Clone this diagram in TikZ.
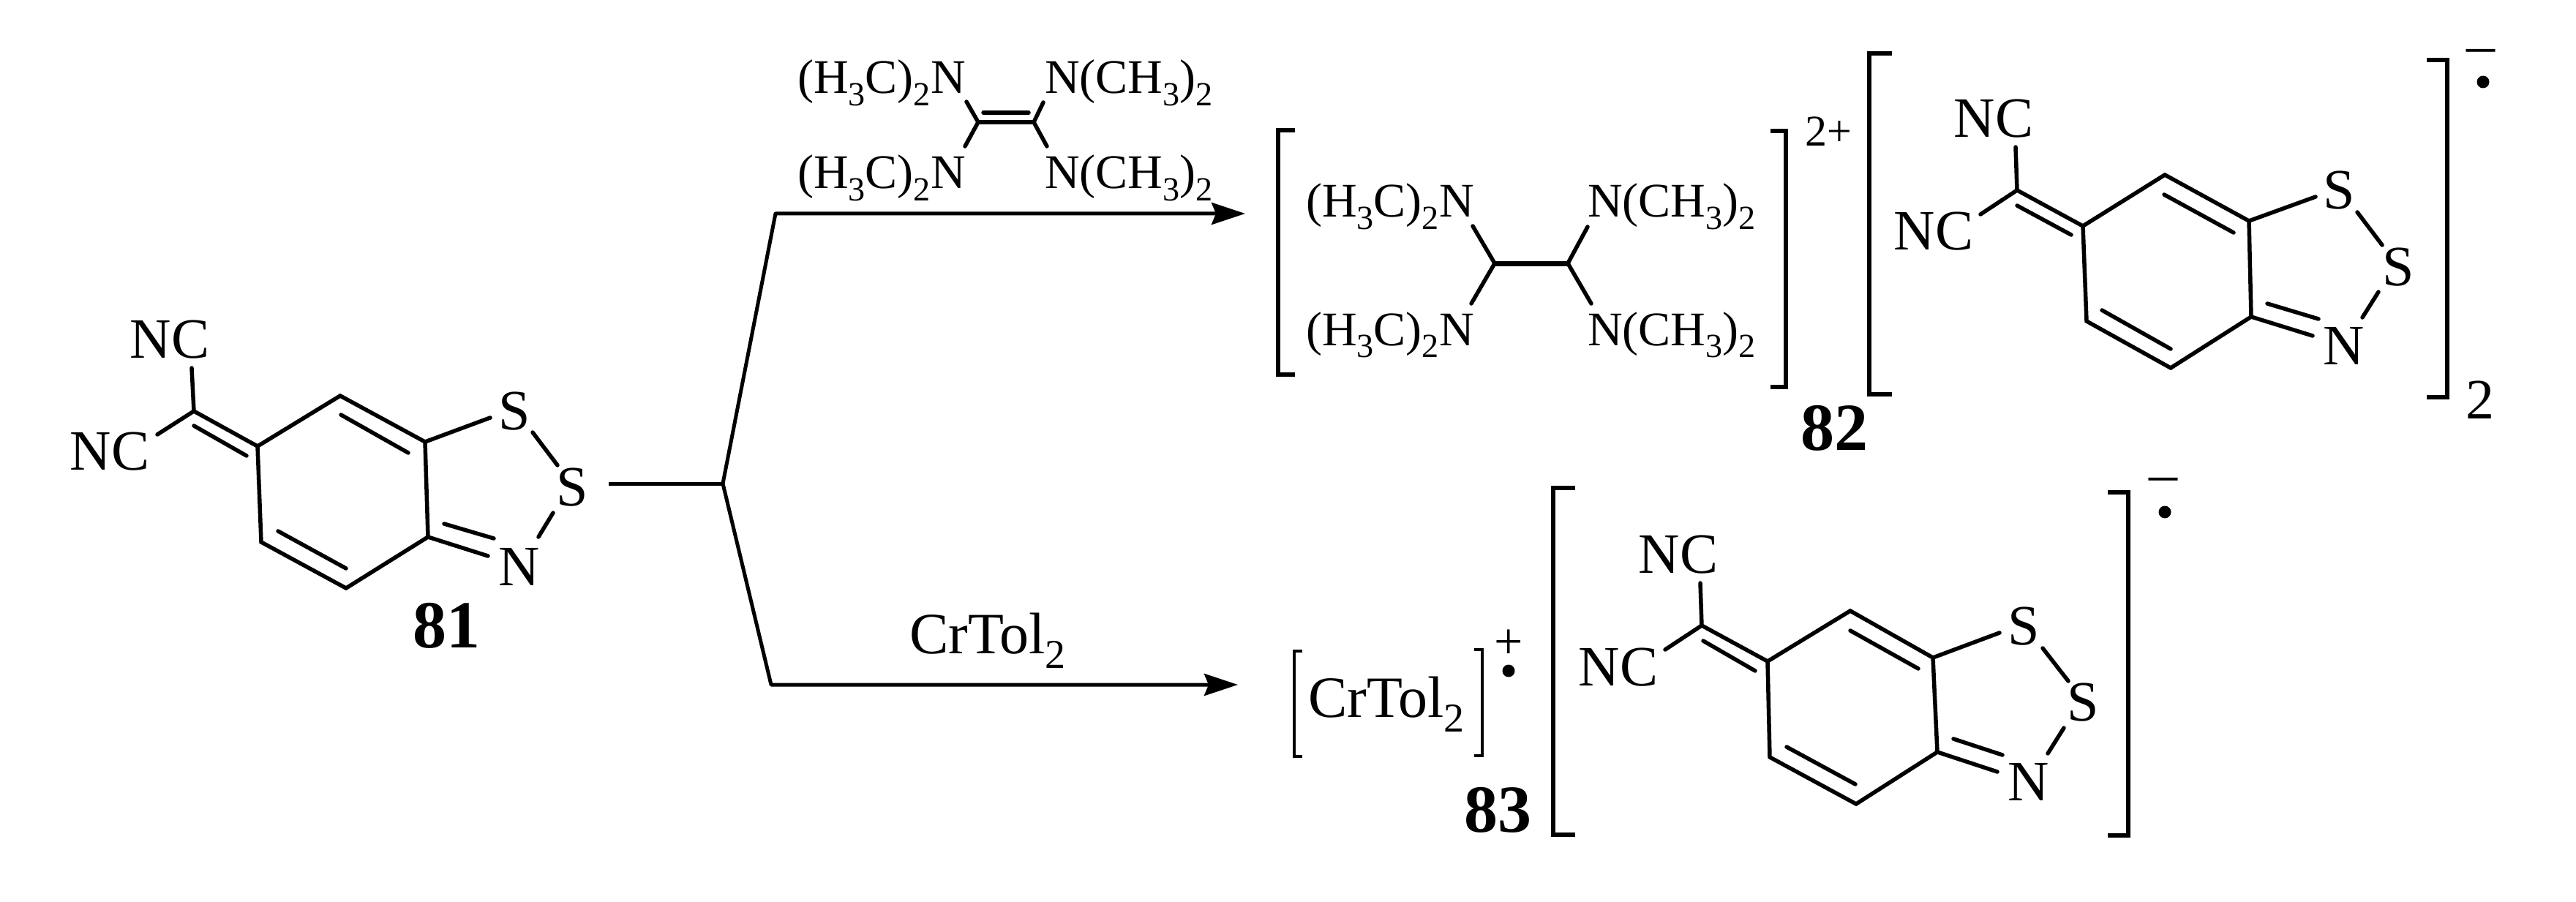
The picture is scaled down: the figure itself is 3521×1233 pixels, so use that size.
\documentclass[tikz,border=0pt]{standalone}
\usepackage{fontspec}
\usepackage{graphicx}
\setmainfont{Liberation Serif}
\usetikzlibrary{arrows.meta}
\newcommand{\lowd}[1]{\raisebox{-.25em}{\scalebox{.7}{#1}}}
\newcommand{\hcn}{(H\lowd{3}C)\lowd{2}N}
\newcommand{\nch}{N(CH\lowd{3})\lowd{2}}
\newcommand{\fsize}[1]{\fontsize{#1}{#1}\selectfont}
% all bonds of one dithiazole molecule, from its named coordinates
\newcommand{\molbonds}[1]{%
  \draw[bond] (#1-tl) -- (#1-t) -- (#1-tr) -- (#1-br) -- (#1-b) -- (#1-bl) -- cycle;
  \draw[bond] (#1-n1) -- (#1-x) -- (#1-tl);
  \draw[bond] (#1-n2) -- (#1-x);
  \draw[bond] (#1-tr) -- (#1-s1);
  \draw[bond] (#1-ss1) -- (#1-ss2);
  \draw[bond] (#1-sn1) -- (#1-sn2);
  \draw[bond] (#1-br) -- (#1-cn);
  \draw[bond] (#1-ia) -- (#1-ib);
  \draw[bond] (#1-ic) -- (#1-id);
  \draw[bond] (#1-ie) -- (#1-if);
  \draw[bond] (#1-ig) -- (#1-ih);
}
\tikzset{
  bond/.style={line width=5.5pt,line cap=round,line join=miter},
  atom/.style={inner sep=0pt,font=\fsize{78}},
  frag/.style={inner sep=0pt,anchor=base west,font=\fsize{66}},
  num/.style={inner sep=0pt,font=\fsize{92}\bfseries},
  bracket/.style={line width=5.5pt,line join=miter},
  rxn/.style={line width=5pt,line join=round},
  rxnarrow/.style={rxn,-{Stealth[length=46pt,width=30pt,inset=6pt]}},
  radical/.style={circle,fill=black,inner sep=0pt,minimum size=17pt},
}
\begin{document}
\begin{tikzpicture}[x=1pt,y=-1pt]
\useasboundingbox (0,0) rectangle (3521,1233);

% ---------- molecule 81
\coordinate (A-t) at (465,541);   \coordinate (A-tr) at (581,604);
\coordinate (A-br) at (585,734);  \coordinate (A-b) at (473,804);
\coordinate (A-bl) at (357,741);  \coordinate (A-tl) at (352,610);
\coordinate (A-x) at (265,562);   \coordinate (A-n1) at (262,503);
\coordinate (A-n2) at (215,594);  \coordinate (A-s1) at (670,571);
\coordinate (A-ss1) at (728,591); \coordinate (A-ss2) at (762,636);
\coordinate (A-sn1) at (756,701); \coordinate (A-sn2) at (736,734);
\coordinate (A-cn) at (667,760);
\coordinate (A-ia) at (466,567);  \coordinate (A-ib) at (558,619);
\coordinate (A-ic) at (380,726);  \coordinate (A-id) at (473,777);
\coordinate (A-ie) at (607,716);  \coordinate (A-if) at (675,736);
\coordinate (A-ig) at (265,582);  \coordinate (A-ih) at (337,623);
\molbonds{A}
\node[atom] (A-NC1) at (232,464) {NC};
\node[atom] (A-NC2) at (150,617) {NC};
\node[atom] (A-S1) at (703,562) {S};
\node[atom] (A-S2) at (782,666) {S};
\node[atom] (A-N) at (710,775) {N};
\node[num] (n81) at (610,855) {81};

% ---------- reaction lines
\coordinate (start) at (832,661);
\coordinate (fork) at (988,661);
\coordinate (upper) at (1060,292);
\coordinate (lower) at (1054,936);
\coordinate (uppertip) at (1702,292);
\coordinate (lowertip) at (1692,936);
\draw[rxn] (start) -- (fork);
\draw[rxnarrow] (fork) -- (upper) -- (uppertip);
\draw[rxnarrow] (fork) -- (lower) -- (lowertip);

% ---------- reagent TDAE
\node[frag] (R1) at (1090,128) {\hcn};
\node[frag] (R2) at (1428,128) {\nch};
\node[frag] (R3) at (1090,258) {\hcn};
\node[frag] (R4) at (1428,258) {\nch};
\coordinate (Rc1) at (1337,167); \coordinate (Rc2) at (1413,167);
\coordinate (Ri1) at (1344,154); \coordinate (Ri2) at (1406,154);
\coordinate (Ra) at (1321,139); \coordinate (Rb) at (1426,140);
\coordinate (Rd) at (1319,200); \coordinate (Re) at (1431,200);
\draw[bond] (Ra) -- (Rc1) -- (Rd);
\draw[bond] (Rb) -- (Rc2) -- (Re);
\draw[bond] (Rc1) -- (Rc2);
\draw[bond] (Ri1) -- (Ri2);

% ---------- dication of 82
\coordinate (Bl1) at (1770,178); \coordinate (Bl2) at (1747,178);
\coordinate (Bl3) at (1747,512); \coordinate (Bl4) at (1770,512);
\draw[bracket] (Bl1) -- (Bl2) -- (Bl3) -- (Bl4);
\coordinate (Br1) at (2420,179); \coordinate (Br2) at (2441,179);
\coordinate (Br3) at (2441,529); \coordinate (Br4) at (2420,529);
\draw[bracket] (Br1) -- (Br2) -- (Br3) -- (Br4);
\node[frag] (D1) at (1785,297) {\hcn};
\node[frag] (D2) at (2170,297) {\nch};
\node[frag] (D3) at (1785,472) {\hcn};
\node[frag] (D4) at (2170,472) {\nch};
\coordinate (Dc1) at (2043,360); \coordinate (Dc2) at (2143,360);
\coordinate (Da) at (2013,309); \coordinate (Db) at (2170,310);
\coordinate (Dd) at (2011,415); \coordinate (De) at (2175,415);
\draw[bond] (Da) -- (Dc1) -- (Dd);
\draw[bond] (Db) -- (Dc2) -- (De);
\draw[bond,line width=7pt] (Dc1) -- (Dc2);
\node[inner sep=0pt,font=\fsize{60}] (charge2) at (2499,180) {2+};
\node[num] (n82) at (2507,585) {82};

% ---------- anion of 82
\coordinate (B-t) at (2959,239);   \coordinate (B-tr) at (3074,302);
\coordinate (B-br) at (3077,433);  \coordinate (B-b) at (2967,503);
\coordinate (B-bl) at (2852,439);  \coordinate (B-tl) at (2847,309);
\coordinate (B-x) at (2757,260);   \coordinate (B-n1) at (2755,201);
\coordinate (B-n2) at (2707,293);  \coordinate (B-s1) at (3165,269);
\coordinate (B-ss1) at (3222,290); \coordinate (B-ss2) at (3256,335);
\coordinate (B-sn1) at (3251,399); \coordinate (B-sn2) at (3229,434);
\coordinate (B-cn) at (3161,459);
\coordinate (B-ia) at (2958,266);  \coordinate (B-ib) at (3053,318);
\coordinate (B-ic) at (2873,424);  \coordinate (B-id) at (2967,477);
\coordinate (B-ie) at (3099,415);  \coordinate (B-if) at (3169,436);
\coordinate (B-ig) at (2757,281);  \coordinate (B-ih) at (2831,321);
\molbonds{B}
\node[atom] (B-NC1) at (2725,162) {NC};
\node[atom] (B-NC2) at (2643,316) {NC};
\node[atom] (B-S1) at (3197,260) {S};
\node[atom] (B-S2) at (3278,365) {S};
\node[atom] (B-N) at (3204,473) {N};
\coordinate (Bb1) at (2586,73); \coordinate (Bb2) at (2555,73);
\coordinate (Bb3) at (2555,539); \coordinate (Bb4) at (2586,539);
\draw[bracket] (Bb1) -- (Bb2) -- (Bb3) -- (Bb4);
\coordinate (Bc1) at (3317,82); \coordinate (Bc2) at (3345,82);
\coordinate (Bc3) at (3345,543); \coordinate (Bc4) at (3317,543);
\draw[bracket] (Bc1) -- (Bc2) -- (Bc3) -- (Bc4);
\node[atom] (B-minus) at (3391,77) {–};
\node[radical] (B-dot) at (3394,112) {};
\node[atom] (B-two) at (3390,547) {2};

% ---------- lower reagent and salt 83
\node[inner sep=0pt,anchor=base,font=\fsize{80}] (Cr) at (1350,893) {CrTol\lowd{2}};
\node[inner sep=0pt,anchor=base west,font=\fsize{80}] (Crs) at (1788,980) {CrTol\lowd{2}};
\coordinate (Cl1) at (1780,890); \coordinate (Cl2) at (1769,890);
\coordinate (Cl3) at (1769,1034); \coordinate (Cl4) at (1780,1034);
\draw[bracket,line width=4.5pt] (Cl1) -- (Cl2) -- (Cl3) -- (Cl4);
\coordinate (Cr1) at (2015,888); \coordinate (Cr2) at (2026,888);
\coordinate (Cr3) at (2026,1033); \coordinate (Cr4) at (2015,1033);
\draw[bracket,line width=4.5pt] (Cr1) -- (Cr2) -- (Cr3) -- (Cr4);
\node[inner sep=0pt,font=\fsize{70}] (C-plus) at (2062,881) {+};
\node[radical] (C-dot) at (2062,917) {};
\node[num] (n83) at (2047,1107) {83};

\coordinate (C-t) at (2529,835);   \coordinate (C-tr) at (2642,899);
\coordinate (C-br) at (2648,1028); \coordinate (C-b) at (2537,1099);
\coordinate (C-bl) at (2419,1035); \coordinate (C-tl) at (2416,904);
\coordinate (C-x) at (2326,855);   \coordinate (C-n1) at (2324,797);
\coordinate (C-n2) at (2276,888);  \coordinate (C-s1) at (2733,865);
\coordinate (C-ss1) at (2792,886); \coordinate (C-ss2) at (2827,931);
\coordinate (C-sn1) at (2821,995); \coordinate (C-sn2) at (2799,1030);
\coordinate (C-cn) at (2730,1055);
\coordinate (C-ia) at (2529,862);  \coordinate (C-ib) at (2622,914);
\coordinate (C-ic) at (2442,1021); \coordinate (C-id) at (2536,1072);
\coordinate (C-ie) at (2670,1010); \coordinate (C-if) at (2737,1032);
\coordinate (C-ig) at (2328,876);  \coordinate (C-ih) at (2399,917);
\molbonds{C}
\node[atom] (C-NC1) at (2294,758) {NC};
\node[atom] (C-NC2) at (2212,912) {NC};
\node[atom] (C-S1) at (2766,856) {S};
\node[atom] (C-S2) at (2847,960) {S};
\node[atom] (C-N) at (2773,1069) {N};
\coordinate (Cb1) at (2153,667); \coordinate (Cb2) at (2123,667);
\coordinate (Cb3) at (2123,1141); \coordinate (Cb4) at (2153,1141);
\draw[bracket] (Cb1) -- (Cb2) -- (Cb3) -- (Cb4);
\coordinate (Cc1) at (2881,673); \coordinate (Cc2) at (2909,673);
\coordinate (Cc3) at (2909,1142); \coordinate (Cc4) at (2881,1142);
\draw[bracket] (Cc1) -- (Cc2) -- (Cc3) -- (Cc4);
\node[atom] (C-minus) at (2957,663) {–};
\node[radical] (C-dot2) at (2959,700) {};
\end{tikzpicture}
\end{document}
